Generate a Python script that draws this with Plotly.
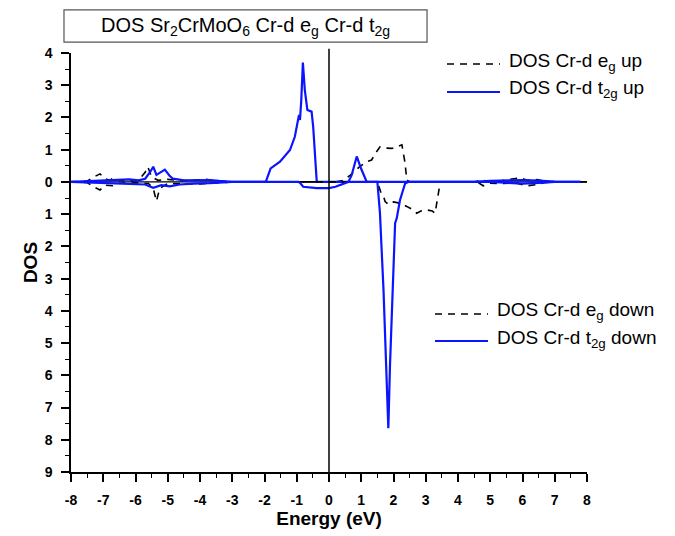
import plotly.graph_objects as go

# ---- data ----
eg_up_x = [-8, -7.5, -7.3, -7.1, -6.95, -6.8, -6.7, -6.55, -6.2, -5.9, -5.7, -5.62, -5.5, -5.3, -5.0, -4.6, -4.2, -3.8, -3.5, -3.0,
           0.2, 0.45, 0.65, 0.85, 0.96, 1.17, 1.32, 1.45, 1.58, 1.75, 1.95, 2.1, 2.26, 2.36, 2.41, 2.5,
           4.5, 4.78, 5.0, 5.3, 5.62, 5.93, 6.14, 6.45, 6.7, 7.0, 8.0]
eg_up_y = [0, 0.02, 0.15, 0.25, 0.1, 0.05, 0.12, 0.05, 0.03, 0.05, 0.3, 0.47, 0.15, 0.05, 0.08, 0.04, 0.05, 0.08, 0.03, 0.0,
           0, 0.05, 0.2, 0.4, 0.48, 0.63, 0.68, 0.9, 1.09, 1.05, 1.04, 1.09, 1.15, 0.58, 0.06, 0,
           0, 0.05, 0.02, 0.03, 0.08, 0.13, 0.05, 0.07, 0.02, 0, 0]

eg_dn_x = [-8, -7.5, -7.3, -7.1, -6.95, -6.7, -6.5, -6.0, -5.6, -5.45, -5.35, -5.25, -5.0, -4.5, -4.0, -3.5, -3.0,
           1.45, 1.53, 1.6, 1.69, 1.74, 1.85, 2.0, 2.2, 2.41, 2.61, 2.72, 2.85, 3.03, 3.2, 3.29, 3.4, 3.45,
           4.6, 4.78, 5.0, 5.4, 5.8, 6.14, 6.45, 6.7, 7.0, 8.0]
eg_dn_y = [0, -0.02, -0.15, -0.25, -0.1, -0.12, -0.04, -0.03, -0.05, -0.2, -0.6, -0.2, -0.05, -0.05, -0.06, -0.03, 0,
           0, -0.09, -0.3, -0.45, -0.61, -0.7, -0.62, -0.66, -0.76, -0.87, -0.97, -0.9, -0.87, -0.9, -0.97, -0.35, 0,
           0, -0.12, -0.04, -0.05, -0.03, -0.12, -0.08, -0.02, 0, 0]

t2g_up_x = [-8, -7.5, -7.0, -6.5, -6.2, -5.9, -5.7, -5.55, -5.45, -5.35, -5.2, -5.09, -4.95, -4.84, -4.5, -4.0, -3.7, -3.4, -3.0,
            -1.96, -1.81, -1.52, -1.21, -1.06, -0.97, -0.93, -0.9, -0.86, -0.81, -0.75, -0.67, -0.54, -0.49, -0.38,
            0.6, 0.7, 0.86, 1.0, 1.17, 4.5, 5.0, 5.5, 6.0, 6.5, 7.0, 7.8]
t2g_up_y = [0, 0.02, 0.03, 0.06, 0.08, 0.05, 0.1, 0.3, 0.47, 0.22, 0.3, 0.38, 0.2, 0.1, 0.05, 0.07, 0.06, 0.03, 0.0,
            0, 0.42, 0.63, 0.99, 1.4, 1.87, 2.08, 1.92, 2.54, 3.7, 2.85, 2.23, 2.18, 1.71, 0,
            0, 0.2, 0.79, 0.4, 0, 0, 0.03, 0.05, 0.06, 0.04, 0.01, 0]

t2g_dn_x = [-8, -7.5, -7.0, -6.5, -6.0, -5.7, -5.45, -5.2, -4.94, -4.63, -4.2, -3.7, -3.0,
            -0.95, -0.9, -0.8, -0.38, 0.0, 0.2, 0.45, 0.6,
            1.5, 1.58, 1.69, 1.79, 1.84, 1.89, 1.98, 2.05, 2.1, 2.2, 2.36, 2.45,
            5.0, 5.5, 6.0, 6.5, 7.0, 7.8]
t2g_dn_y = [0, -0.02, -0.03, -0.05, -0.06, -0.08, -0.18, -0.1, -0.14, -0.08, -0.05, -0.04, 0,
            0, -0.03, -0.15, -0.19, -0.19, -0.15, -0.06, 0,
            0, -0.97, -3.35, -6.35, -7.64, -5.73, -3.04, -1.28, -1.13, -0.57, -0.05, 0,
            0, -0.03, -0.05, -0.03, 0, 0]

series_names = ["DOS Cr-d e<sub>g</sub> up", "DOS Cr-d t<sub>2g</sub> up",
                "DOS Cr-d e<sub>g</sub> down", "DOS Cr-d t<sub>2g</sub> down"]
title_text = "DOS Sr<sub>2</sub>CrMoO<sub>6</sub> Cr-d e<sub>g</sub> Cr-d t<sub>2g</sub>"

x_ticks = list(range(-8, 9))
y_ticks = list(range(-9, 5))
y_tick_text = [str(abs(v)) for v in y_ticks]

FONT = "Liberation Sans, Arial, sans-serif"
DASH = "7px,6px"
BLUE = "#0a14ff"

fig = go.Figure()
traces = [
    (eg_up_x, eg_up_y, series_names[0], dict(color="black", width=1.6, dash=DASH)),
    (t2g_up_x, t2g_up_y, series_names[1], dict(color=BLUE, width=2.2)),
    (eg_dn_x, eg_dn_y, series_names[2], dict(color="black", width=1.6, dash=DASH)),
    (t2g_dn_x, t2g_dn_y, series_names[3], dict(color=BLUE, width=2.2)),
]
for xs, ys, nm, ln in traces:
    fig.add_trace(go.Scatter(x=xs, y=ys, mode="lines", name=nm, line=ln, showlegend=False))

# zero lines
fig.add_shape(type="line", xref="x", yref="y", x0=-8, x1=8, y0=0, y1=0,
              line=dict(color="black", width=1.2), layer="below")
fig.add_shape(type="line", xref="x", yref="paper", x0=0, x1=0, y0=0, y1=1.01,
              line=dict(color="black", width=1.5), layer="above")

# title box
fig.add_shape(type="rect", xref="paper", yref="paper", x0=-0.0136, x1=0.690, y0=1.026, y1=1.103,
              line=dict(color="#555", width=1.2), fillcolor="white")
fig.add_annotation(xref="paper", yref="paper", x=0.338, y=1.064, showarrow=False,
                   text=title_text,
                   font=dict(family=FONT, size=20, color="black"), xanchor="center", yanchor="middle")

# legends (drawn manually to match the long line samples)
legend_items = [
    # (x0, x1, y, text_x, name index, line style)
    (0.7287, 0.8314, 0.9737, 0.845, 0, dict(color="black", width=1.6, dash=DASH)),
    (0.7287, 0.8314, 0.9069, 0.845, 1, dict(color=BLUE, width=2.2)),
    (0.7054, 0.8081, 0.3771, 0.8217, 2, dict(color="black", width=1.6, dash=DASH)),
    (0.7054, 0.8081, 0.3126, 0.8217, 3, dict(color=BLUE, width=2.2)),
]
for x0, x1, yy, tx, idx, ln in legend_items:
    fig.add_shape(type="line", xref="paper", yref="paper", x0=x0, x1=x1, y0=yy, y1=yy, line=ln)
    fig.add_annotation(xref="paper", yref="paper", x=tx, y=yy + 0.006, showarrow=False,
                       text=series_names[idx], xanchor="left", yanchor="middle",
                       font=dict(family=FONT, size=19, color="black"))

fig.update_layout(
    width=675, height=536,
    margin=dict(l=63, r=96, t=45, b=72),
    paper_bgcolor="white", plot_bgcolor="white",
    font=dict(family=FONT, color="black"),
    showlegend=False,
)
fig.update_xaxes(range=[-8, 8], tickvals=x_ticks, ticktext=[str(v) for v in x_ticks],
                 showgrid=False, zeroline=False, showline=True, linecolor="black", linewidth=1.5,
                 ticks="outside", ticklen=8, tickwidth=1.5, tickcolor="black", ticklabelstandoff=6,
                 minor=dict(ticks="outside", ticklen=4, tickwidth=1.2, tickcolor="black", dtick=0.5, tick0=0),
                 tickfont=dict(family=FONT, size=14, color="black", weight="bold"),
                 title=dict(text="<b>Energy (eV)</b>", font=dict(family=FONT, size=19, color="black"), standoff=3))
fig.update_yaxes(range=[-9, 4], tickvals=y_ticks, ticktext=y_tick_text,
                 showgrid=False, zeroline=False, showline=True, linecolor="black", linewidth=1.5,
                 ticks="outside", ticklen=8, tickwidth=1.5, tickcolor="black", ticklabelstandoff=6,
                 minor=dict(ticks="outside", ticklen=4, tickwidth=1.2, tickcolor="black", dtick=0.5, tick0=0),
                 tickfont=dict(family=FONT, size=14, color="black", weight="bold"),
                 title=dict(text="<b>DOS</b>", font=dict(family=FONT, size=19, color="black"), standoff=2))

fig.write_html("out.html")
